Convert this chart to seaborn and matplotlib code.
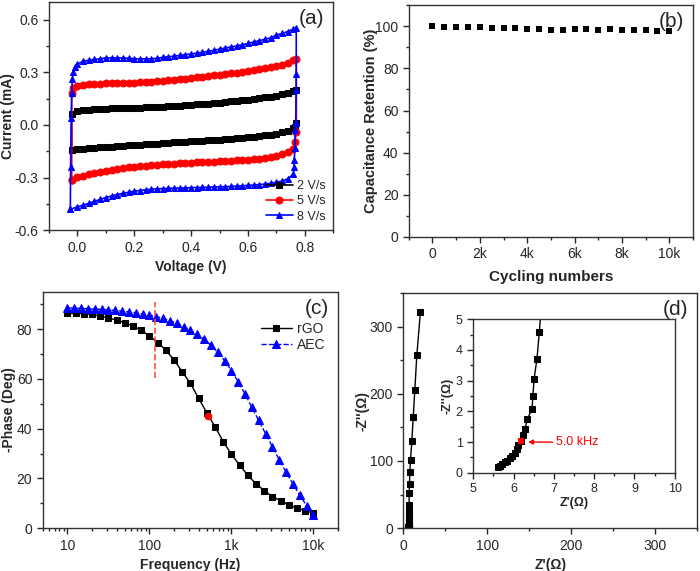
import numpy as np
import pandas as pd
import seaborn as sns
import matplotlib.pyplot as plt
from matplotlib.ticker import MultipleLocator, FuncFormatter, LogLocator, FixedLocator

# ---------------- data ----------------
# (a) cyclic voltammetry, voltage grid of the two sweeps
v_scan = [0.00, 0.02, 0.04, 0.06, 0.08, 0.10, 0.12, 0.14, 0.16, 0.18,
          0.20, 0.22, 0.24, 0.26, 0.28, 0.30, 0.32, 0.34, 0.36, 0.38,
          0.40, 0.42, 0.44, 0.46, 0.48, 0.50, 0.52, 0.54, 0.56, 0.58,
          0.60, 0.62, 0.64, 0.66, 0.68, 0.70, 0.72, 0.74, 0.76]

i2_up = [0.078, 0.083, 0.087, 0.089, 0.091, 0.093, 0.094, 0.095, 0.096, 0.097,
         0.098, 0.099, 0.100, 0.101, 0.103, 0.105, 0.107, 0.109, 0.111, 0.113,
         0.115, 0.117, 0.120, 0.122, 0.125, 0.128, 0.131, 0.134, 0.137, 0.140,
         0.144, 0.148, 0.152, 0.157, 0.162, 0.168, 0.175, 0.183, 0.192]
i2_dn = [-0.139, -0.136, -0.133, -0.130, -0.128, -0.125, -0.123, -0.120, -0.118, -0.116,
         -0.114, -0.112, -0.110, -0.108, -0.106, -0.104, -0.102, -0.100, -0.098, -0.096,
         -0.094, -0.092, -0.090, -0.088, -0.086, -0.084, -0.081, -0.079, -0.076, -0.073,
         -0.070, -0.067, -0.063, -0.059, -0.055, -0.050, -0.043, -0.035, -0.020]
i2_left_v = [-0.02, -0.02]
i2_left_i = [-0.143, 0.064]
i2_right_v = [0.77, 0.77, 0.765]
i2_right_i = [0.200, 0.010, -0.010]

i5_up = [0.222, 0.228, 0.232, 0.234, 0.236, 0.237, 0.238, 0.239, 0.240, 0.241,
         0.242, 0.243, 0.245, 0.247, 0.249, 0.252, 0.255, 0.258, 0.261, 0.264,
         0.267, 0.271, 0.275, 0.279, 0.283, 0.287, 0.291, 0.295, 0.299, 0.303,
         0.307, 0.312, 0.317, 0.323, 0.329, 0.336, 0.344, 0.353, 0.368]
i5_dn = [-0.298, -0.290, -0.282, -0.275, -0.269, -0.263, -0.257, -0.252, -0.247, -0.242,
         -0.238, -0.235, -0.232, -0.229, -0.227, -0.225, -0.223, -0.221, -0.219, -0.217,
         -0.216, -0.214, -0.212, -0.211, -0.209, -0.207, -0.206, -0.204, -0.202, -0.200,
         -0.198, -0.195, -0.192, -0.188, -0.182, -0.175, -0.167, -0.156, -0.135]
i5_left_v = [-0.02, -0.02, -0.015]
i5_left_i = [-0.315, 0.180, 0.210]
i5_right_v = [0.77, 0.77, 0.765]
i5_right_i = [0.375, -0.040, -0.100]

i8_up = [0.348, 0.363, 0.370, 0.374, 0.378, 0.382, 0.383, 0.383, 0.382, 0.381,
         0.378, 0.377, 0.377, 0.378, 0.380, 0.386, 0.389, 0.393, 0.397, 0.401,
         0.405, 0.410, 0.415, 0.420, 0.426, 0.433, 0.439, 0.445, 0.451, 0.458,
         0.465, 0.473, 0.481, 0.489, 0.497, 0.513, 0.522, 0.533, 0.548]
i8_dn = [-0.467, -0.458, -0.447, -0.436, -0.425, -0.414, -0.405, -0.397, -0.390, -0.384,
         -0.378, -0.374, -0.370, -0.367, -0.365, -0.363, -0.362, -0.361, -0.360, -0.359,
         -0.358, -0.357, -0.356, -0.355, -0.354, -0.353, -0.352, -0.351, -0.349, -0.347,
         -0.345, -0.343, -0.340, -0.337, -0.333, -0.327, -0.320, -0.307, -0.280]
i8_left_v = [-0.025, -0.024, -0.022, -0.020, -0.018, -0.015, -0.010]
i8_left_i = [-0.482, -0.240, 0.040, 0.180, 0.260, 0.300, 0.330]
i8_right_v = [0.77, 0.77, 0.77, 0.768, 0.766, 0.765, 0.763, 0.762]
i8_right_i = [0.556, 0.290, 0.200, 0.010, -0.030, -0.130, -0.200, -0.240]

# (b) capacitance retention
cycles = [0, 500, 1000, 1500, 2000, 2500, 3000, 3500, 4000, 4500, 5000,
          5500, 6000, 6500, 7000, 7500, 8000, 8500, 9000, 9500, 10000]
retention = [100.0, 99.5, 99.5, 99.5, 99.5, 99.0, 99.0, 99.0, 98.5, 98.5, 98.0,
             98.0, 98.5, 98.5, 98.0, 98.5, 98.0, 98.0, 98.0, 97.5, 97.5]

# (c) Bode phase
freq_rgo = [10, 12.6, 15.8, 20, 25.1, 31.6, 39.8, 50.1, 63.1, 79.4,
            100, 126, 158, 200, 251, 316, 398, 501, 631, 794,
            1000, 1260, 1580, 2000, 2510, 3160, 3980, 5010, 6310, 7940, 10000]
phase_rgo = [86.3, 86.3, 86.2, 85.9, 85.2, 84.5, 83.6, 82.5, 81.2, 79.6,
             77.2, 74.6, 71.6, 67.6, 62.9, 58.2, 52.2, 46.4, 40.8, 34.8,
             29.7, 25.3, 21.3, 17.8, 15.1, 12.7, 11.0, 9.4, 8.0, 7.1, 6.0]
freq_aec = [10, 12.1, 14.7, 17.8, 21.5, 26.1, 31.6, 38.3, 46.4, 56.2, 68.1, 82.5,
            100, 121, 147, 178, 215, 261, 316, 383, 464, 562, 681, 825,
            1000, 1210, 1470, 1780, 2150, 2610, 3160, 3830, 4640, 5620, 6810, 8250, 10000]
phase_aec = [88.6, 88.4, 88.3, 88.2, 88.0, 87.9, 87.7, 87.5, 87.2, 86.9, 86.5, 86.1,
             85.6, 85.0, 84.3, 83.4, 82.3, 81.0, 79.6, 78.0, 76.0, 73.5, 70.7, 67.3,
             63.3, 58.9, 53.8, 48.5, 43.3, 38.0, 32.7, 27.5, 22.5, 17.8, 13.3, 9.1, 5.3]
knee_freq = [520]
knee_phase = [45]
mark_freq = [117, 117]
mark_phase = [60.5, 91]

# (d) Nyquist
z_re = [5.62, 5.66, 5.72, 5.78, 5.84, 5.91, 5.97, 6.03, 6.08, 6.12,
        6.18, 6.23, 6.29, 6.34, 6.46, 6.48, 6.51, 6.58, 6.64,
        6.75, 6.80, 6.85, 6.90, 6.95, 7.00, 7.05,
        7.1, 7.5, 7.9, 8.7, 10.3, 11.9, 13.8, 16.2, 20.5]
z_im = [0.19, 0.23, 0.28, 0.34, 0.40, 0.47, 0.56, 0.66, 0.77, 0.89,
        1.05, 1.23, 1.44, 1.74, 2.08, 2.50, 3.05, 3.70, 4.57,
        6.5, 9.0, 12.0, 16.0, 21.0, 27.0, 34.0,
        52, 66, 83, 102, 129, 165, 205, 257, 322]
hf_re = [6.18]
hf_im = [1.05]

# ---------------- style ----------------
sns.set_style("ticks")
plt.rcParams['font.family'] = ['Liberation Sans', 'DejaVu Sans']
plt.rcParams['xtick.direction'] = 'out'
plt.rcParams['ytick.direction'] = 'out'
plt.rcParams['axes.linewidth'] = 1.0
plt.rcParams['axes.edgecolor'] = '#333333'

fig = plt.figure(figsize=(7, 5.71), dpi=100)
lab = dict(fontsize=10, fontweight='bold')


def tidy(ax, ts=10):
    ax.tick_params(which='major', length=4, width=1, labelsize=ts, top=False, right=False)
    ax.tick_params(which='minor', length=2, width=1, top=False, right=False)
    for s in ax.spines.values():
        s.set_visible(True)


def loop(left_v, left_i, up, right_v, right_i, dn):
    v = left_v + v_scan + right_v + v_scan[::-1] + [left_v[0]]
    i = left_i + up + right_i + dn[::-1] + [left_i[0]]
    return pd.DataFrame({'V': v, 'I': i})


# ---- (a) ----
ax = fig.add_axes([0.070, 0.597, 0.406, 0.399])
curves = [
    ('2 V/s', 'black', 's', loop(i2_left_v, i2_left_i, i2_up, i2_right_v, i2_right_i, i2_dn)),
    ('5 V/s', 'red', 'o', loop(i5_left_v, i5_left_i, i5_up, i5_right_v, i5_right_i, i5_dn)),
    ('8 V/s', 'blue', '^', loop(i8_left_v, i8_left_i, i8_up, i8_right_v, i8_right_i, i8_dn)),
]
for name, col, mk, df in curves:
    sns.lineplot(data=df, x='V', y='I', sort=False, estimator=None, ax=ax, color=col,
                 marker=mk, markersize=5, markeredgecolor=col, linewidth=1.2, label=name)
ax.set_xlim(-0.1, 0.9)
ax.set_ylim(-0.6, 0.7)
ax.xaxis.set_major_locator(MultipleLocator(0.2))
ax.xaxis.set_minor_locator(MultipleLocator(0.1))
ax.yaxis.set_major_locator(FixedLocator([-0.6, -0.3, 0.0, 0.3, 0.6]))
ax.yaxis.set_minor_locator(MultipleLocator(0.15))
ax.xaxis.set_major_formatter(FuncFormatter(lambda x, p: f"{x:.1f}"))
ax.yaxis.set_major_formatter(FuncFormatter(lambda x, p: f"{x:.1f}"))
ax.set_xlabel('Voltage (V)', **lab)
ax.set_ylabel('Current (mA)', **lab)
ax.yaxis.set_label_coords(-0.12, 0.5)
ax.legend(loc='lower right', frameon=False, fontsize=9, handlelength=2.2,
          handletextpad=0.3, labelspacing=0.25, borderaxespad=0.2)
ax.text(0.97, 0.97, '(a)', transform=ax.transAxes, ha='right', va='top', fontsize=15)
tidy(ax)

# ---- (b) ----
ax = fig.add_axes([0.584, 0.585, 0.406, 0.406])
sns.scatterplot(x=cycles, y=retention, ax=ax, marker='s', color='black', s=20,
                edgecolor='black', linewidth=0)
ax.set_xlim(-1000, 11000)
ax.set_ylim(0, 110)
ax.xaxis.set_major_locator(MultipleLocator(2000))
ax.xaxis.set_minor_locator(MultipleLocator(1000))
ax.yaxis.set_major_locator(MultipleLocator(20))
ax.yaxis.set_minor_locator(MultipleLocator(10))
ax.xaxis.set_major_formatter(FuncFormatter(lambda x, p: '0' if x == 0 else f"{int(x / 1000)}k"))
ax.set_xlabel('Cycling numbers', fontsize=11, fontweight='bold', labelpad=6)
ax.set_ylabel('Capacitance Retention (%)', fontsize=10.5, fontweight='bold')
ax.yaxis.set_label_coords(-0.11, 0.5)
ax.text(0.97, 0.97, '(b)', transform=ax.transAxes, ha='right', va='top', fontsize=15)
tidy(ax)

# ---- (c) ----
ax = fig.add_axes([0.061, 0.075, 0.422, 0.414])
sns.lineplot(x=freq_rgo, y=phase_rgo, ax=ax, color='black', marker='s', markersize=5,
             markeredgecolor='black', linewidth=1, label='rGO')
sns.lineplot(x=freq_aec, y=phase_aec, ax=ax, color='blue', marker='^', markersize=5.5,
             markeredgecolor='blue', linewidth=1, linestyle='--', label='AEC')
sns.scatterplot(x=knee_freq, y=knee_phase, ax=ax, color='red', s=30, linewidth=0, zorder=5)
ax.plot(mark_freq, mark_phase, color='#ff5030', linestyle='--', linewidth=1.2)
ax.set_xscale('log')
ax.set_xlim(5, 20000)
ax.set_ylim(0, 95)
ax.xaxis.set_major_locator(LogLocator(base=10, numticks=10))
ax.xaxis.set_minor_locator(LogLocator(base=10, subs=np.arange(2, 10), numticks=10))
names = {10: '10', 100: '100', 1000: '1k', 10000: '10k'}
ax.xaxis.set_major_formatter(FuncFormatter(lambda x, p: names.get(int(round(x)), '')))
ax.yaxis.set_major_locator(MultipleLocator(20))
ax.yaxis.set_minor_locator(MultipleLocator(10))
ax.set_xlabel('Frequency (Hz)', **lab)
ax.set_ylabel('-Phase (Deg)', **lab)
ax.yaxis.set_label_coords(-0.09, 0.5)
ax.legend(loc='upper right', bbox_to_anchor=(1.0, 0.925), frameon=False, fontsize=10,
          handlelength=2.2, handletextpad=0.4, labelspacing=0.15)
ax.text(0.97, 0.97, '(c)', transform=ax.transAxes, ha='right', va='top', fontsize=15)
tidy(ax)

# ---- (d) ----
ax = fig.add_axes([0.576, 0.075, 0.420, 0.412])
sns.lineplot(x=z_re, y=z_im, ax=ax, sort=False, estimator=None, color='black', marker='s',
             markersize=5, markeredgecolor='black', linewidth=1)
ax.set_xlim(0, 350)
ax.set_ylim(0, 350)
ax.xaxis.set_major_locator(MultipleLocator(100))
ax.xaxis.set_minor_locator(MultipleLocator(50))
ax.yaxis.set_major_locator(MultipleLocator(100))
ax.yaxis.set_minor_locator(MultipleLocator(50))
ax.set_xlabel("Z'(Ω)", **lab)
ax.set_ylabel("-Z''(Ω)", **lab)
ax.yaxis.set_label_coords(-0.115, 0.5)
ax.text(0.97, 0.97, '(d)', transform=ax.transAxes, ha='right', va='top', fontsize=15)
tidy(ax)

axi = fig.add_axes([0.676, 0.172, 0.288, 0.269])
sns.lineplot(x=z_re, y=z_im, ax=axi, sort=False, estimator=None, color='black', marker='s',
             markersize=4.5, markeredgecolor='black', linewidth=1)
sns.scatterplot(x=hf_re, y=hf_im, ax=axi, marker='s', color='red', s=22, linewidth=0, zorder=5)
axi.annotate('5.0 kHz', xy=(6.36, 1.0), xytext=(7.05, 1.0), color='red', fontsize=9,
             va='center', arrowprops=dict(arrowstyle='-|>', color='red', lw=1,
                                          shrinkA=0, shrinkB=0, mutation_scale=7))
axi.set_xlim(5, 10)
axi.set_ylim(0, 5)
axi.xaxis.set_major_locator(MultipleLocator(1))
axi.xaxis.set_minor_locator(MultipleLocator(0.5))
axi.yaxis.set_major_locator(MultipleLocator(1))
axi.yaxis.set_minor_locator(MultipleLocator(0.5))
axi.set_xlabel("Z'(Ω)", fontsize=9, fontweight='bold', labelpad=1)
axi.set_ylabel("-Z''(Ω)", fontsize=9, fontweight='bold', labelpad=2)
tidy(axi, ts=9)

fig.savefig('out.png', dpi=100)
